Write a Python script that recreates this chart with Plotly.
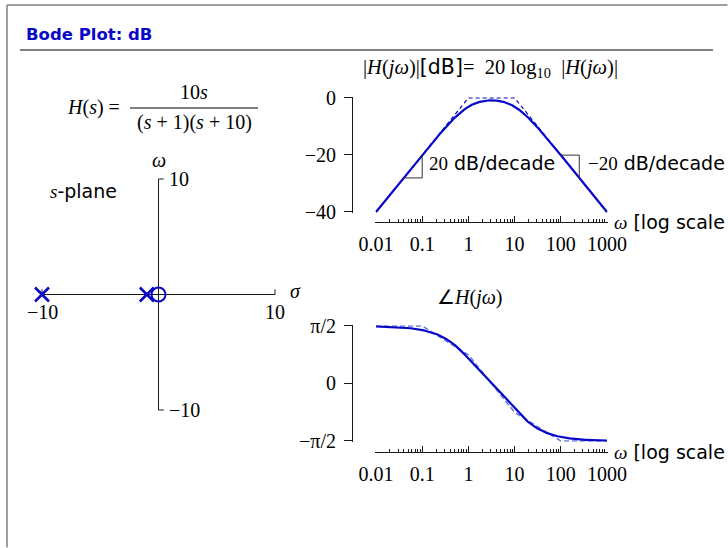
import numpy as np
import plotly.graph_objects as go

W, H = 728, 548
BLUE = "rgb(8,8,200)"
BLUE_ASYM = "rgba(50,70,225,0.75)"
INK = "#1a1a1a"
FRAME = "rgb(128,128,128)"
SERIF = "Liberation Serif"
SANS = "DejaVu Sans"
FS = 20
FS_SANS = 19

# Transfer function H(s) = K * prod(s - z) / prod(s - p)
gain = 10
zeros = [0.0]
poles = [-1.0, -10.0]

# Frequency axis
w_ticks = [0.01, 0.1, 1, 10, 100, 1000]
w_ticktext = ["0.01", "0.1", "1", "10", "100", "1000"]
w_minor = [m * d for d in [0.01, 0.1, 1, 10, 100] for m in range(2, 10)]

# Magnitude axis (dB)
db_ticks = [-40, -20, 0]
db_ticktext = ["−40", "−20", "0"]

# Phase axis (rad)
ph_ticks = [-np.pi / 2, 0, np.pi / 2]
ph_ticktext = ["−π/2", "0", "π/2"]

# Straight-line (asymptotic) approximations
asym_mag_w = [0.01, 1, 10, 1000]
asym_mag_db = [-40, 0, 0, -40]
asym_ph_w = [0.01, 0.1, 1, 10, 100, 1000]
asym_ph = [np.pi / 2, np.pi / 2, np.pi / 4, -np.pi / 4, -np.pi / 2, -np.pi / 2]

# Slope indicator triangles: anchor frequency, slope (dB/decade)
slope_w = [0.1, 100]
slope_db_per_dec = [20, -20]
slope_run = 0.4  # decades

# s-plane extent
s_lim = 10


def px(x):
    return x / W


def py(y):
    return 1 - y / H


def vlin(v_lo, p_lo, v_hi, p_hi, pad):
    """vertical axis: value v_lo at pixel row p_lo, v_hi at p_hi"""
    k = (p_lo - p_hi) / (v_hi - v_lo)
    return [py(p_lo + pad * k), py(p_hi - pad * k)], [v_lo - pad, v_hi + pad]


def hlin(v_lo, p_lo, v_hi, p_hi, pad):
    k = (p_hi - p_lo) / (v_hi - v_lo)
    return [px(p_lo - pad * k), px(p_hi + pad * k)], [v_lo - pad, v_hi + pad]


# Frequency response
w = np.logspace(-2, 3, 800)
s = 1j * w
resp = gain * np.prod([s - z for z in zeros], axis=0) / np.prod([s - p for p in poles], axis=0)
mag_db = 20 * np.log10(np.abs(resp))
phase = np.angle(resp)


def mag_at(f):
    sf = 1j * f
    r = gain * np.prod([sf - z for z in zeros]) / np.prod([sf - p for p in poles])
    return 20 * np.log10(abs(r))


fig = go.Figure()

# --- magnitude ---
fig.add_trace(go.Scatter(x=asym_mag_w, y=asym_mag_db, mode="lines", xaxis="x", yaxis="y",
                         line=dict(color=BLUE, width=1.2, dash="4px,3px"), hoverinfo="skip"))
fig.add_trace(go.Scatter(x=w, y=mag_db, mode="lines", xaxis="x", yaxis="y",
                         line=dict(color=BLUE, width=2.2), hoverinfo="skip"))

for f0, m in zip(slope_w, slope_db_per_dec):
    y0 = mag_at(f0)
    rise = m * slope_run
    if m > 0:
        tx = [f0 * 10 ** (-slope_run), f0, f0]
        ty = [y0 - rise, y0 - rise, y0]
    else:
        tx = [f0, f0 * 10 ** slope_run, f0 * 10 ** slope_run]
        ty = [y0, y0, y0 + rise]
    fig.add_trace(go.Scatter(x=tx, y=ty, mode="lines", xaxis="x", yaxis="y",
                             line=dict(color="#333", width=1), hoverinfo="skip"))

# --- phase ---
fig.add_trace(go.Scatter(x=asym_ph_w, y=asym_ph, mode="lines", xaxis="x2", yaxis="y2",
                         line=dict(color=BLUE_ASYM, width=1.5, dash="5px,3px"), hoverinfo="skip"))
fig.add_trace(go.Scatter(x=w, y=phase, mode="lines", xaxis="x2", yaxis="y2",
                         line=dict(color=BLUE, width=2.2), hoverinfo="skip"))

# --- s-plane ---
tick = 0.45
fig.add_trace(go.Scatter(x=[-s_lim, s_lim], y=[0, 0], mode="lines", xaxis="x3", yaxis="y3",
                         line=dict(color=INK, width=1), hoverinfo="skip"))
fig.add_trace(go.Scatter(x=[0, 0], y=[-s_lim, s_lim], mode="lines", xaxis="x3", yaxis="y3",
                         line=dict(color=INK, width=1), hoverinfo="skip"))
for xs, ys in [([s_lim, s_lim], [0, tick]), ([-s_lim, -s_lim], [0, tick]),
               ([0, tick], [s_lim, s_lim]), ([0, tick], [-s_lim, -s_lim])]:
    fig.add_trace(go.Scatter(x=xs, y=ys, mode="lines", xaxis="x3", yaxis="y3",
                             line=dict(color=INK, width=1), hoverinfo="skip"))
fig.add_trace(go.Scatter(x=poles, y=[0] * len(poles), mode="markers", xaxis="x3", yaxis="y3",
                         cliponaxis=False,
                         marker=dict(symbol="x-thin", size=14, color=BLUE,
                                     line=dict(color=BLUE, width=2.6)), hoverinfo="skip"))
fig.add_trace(go.Scatter(x=zeros, y=[0] * len(zeros), mode="markers", xaxis="x3", yaxis="y3",
                         cliponaxis=False,
                         marker=dict(symbol="circle-open", size=14, color=BLUE,
                                     line=dict(color=BLUE, width=2)), hoverinfo="skip"))

tickfont = dict(family=SERIF, size=FS, color="black")
log_common = dict(type="log", showgrid=False, zeroline=False, showline=True,
                  linecolor=INK, linewidth=1, ticks="inside", ticklen=6, tickcolor=INK,
                  tickwidth=1, tickmode="array", tickvals=w_ticks, ticktext=w_ticktext,
                  tickfont=tickfont, ticklabelstandoff=4, anchor="free",
                  minor=dict(ticks="inside", ticklen=3, tickcolor=INK, tickwidth=1,
                             tickmode="array", tickvals=w_minor, showgrid=False))
y_common = dict(showgrid=False, zeroline=False, showline=True, linecolor=INK, linewidth=1,
                ticks="outside", ticklen=8, tickcolor=INK, tickwidth=1, tickmode="array",
                tickfont=tickfont, anchor="free", position=px(352), ticklabelstandoff=4)

pad_dec = 0.012
k_dec = (607 - 376) / 5
xdom = [px(376 - pad_dec * k_dec), px(607 + pad_dec * k_dec)]
xrng = [-2 - pad_dec, 3 + pad_dec]

ydom1, yrng1 = vlin(-40, 212, 0, 98, 0.5)
ydom2, yrng2 = vlin(-np.pi / 2, 441, np.pi / 2, 326, 0.02)
xdom3, xrng3 = hlin(-s_lim, 42, s_lim, 275, 0.6)
ydom3, yrng3 = vlin(-s_lim, 410, s_lim, 179, 0.6)

fig.update_layout(
    width=W, height=H, margin=dict(l=0, r=0, t=0, b=0, pad=0, autoexpand=False),
    paper_bgcolor="white", plot_bgcolor="rgba(0,0,0,0)", showlegend=False,
    xaxis=dict(domain=xdom, range=xrng, position=py(222), **log_common),
    yaxis=dict(domain=ydom1, range=yrng1, tickvals=db_ticks, ticktext=db_ticktext, **y_common),
    xaxis2=dict(domain=xdom, range=xrng, position=py(452), **log_common),
    yaxis2=dict(domain=ydom2, range=yrng2, tickvals=ph_ticks, ticktext=ph_ticktext, **y_common),
    xaxis3=dict(domain=xdom3, range=xrng3, visible=False, anchor="y3"),
    yaxis3=dict(domain=ydom3, range=yrng3, visible=False, anchor="x3"),
)

shapes = [
    dict(type="line", xref="paper", yref="paper", x0=px(7), y0=py(5), x1=px(727.5), y1=py(5),
         line=dict(color=FRAME, width=1.5)),
    dict(type="line", xref="paper", yref="paper", x0=px(7), y0=py(5), x1=px(7), y1=py(547.5),
         line=dict(color=FRAME, width=1.5)),
    dict(type="line", xref="paper", yref="paper", x0=px(20), y0=py(50), x1=px(713), y1=py(50),
         line=dict(color="black", width=1)),
    # fraction bar of H(s)
    dict(type="line", xref="paper", yref="paper", x0=px(130), y0=py(108), x1=px(258), y1=py(108),
         line=dict(color="black", width=1)),
]
fig.update_layout(shapes=shapes)

SER = 'font-family:Liberation Serif'
annotations = []


def note(text, x, y, xanchor="center", family=SERIF, size=FS, color="black", **kw):
    annotations.append(dict(text=text, x=px(x), y=py(y), xref="paper", yref="paper",
                            xanchor=xanchor, yanchor="middle", showarrow=False,
                            font=dict(family=family, size=size, color=color), **kw))


def dnote(text, x, y, xanchor="center", xshift=0, yshift=0, family=SERIF, size=FS):
    annotations.append(dict(text=text, x=x, y=y, xref="x3", yref="y3", xanchor=xanchor,
                            yanchor="middle", showarrow=False, xshift=xshift, yshift=yshift,
                            font=dict(family=family, size=size, color="black")))


note("<b>Bode Plot: dB</b>", 24, 35, xanchor="left", family=SANS, size=16.5, color=BLUE)

# H(s) expression
note("<i>H</i>(<i>s</i>) =", 122, 107, xanchor="right")
note("10<i>s</i>", 194, 92)
note("(<i>s</i> + 1)(<i>s</i> + 10)", 194, 123)

# s-plane labels
note(f'<span style="{SER}"><i>s</i></span>-plane', 48, 191, xanchor="left", family=SANS,
     size=FS_SANS)
dnote("<i>ω</i>", 0, s_lim, yshift=19)
dnote("10", 0, s_lim, xanchor="left", xshift=8)
dnote("−10", 0, -s_lim, xanchor="left", xshift=8)
dnote("−10", -s_lim, 0, yshift=-17)
dnote("10", s_lim, 0, yshift=-17)
dnote("<i>σ</i>", s_lim, 0, xshift=20, yshift=4)

# magnitude plot labels (the right-hand ones end at the page edge)
note(f'|<i>H</i>(<i>jω</i>)|<span style="font-family:DejaVu Sans">[dB]</span>=\u200220 log<sub>10</sub>\u2002|<i>H</i>(<i>jω</i>)|',
     490, 68, size=20.5)
note(f'<span style="{SER}">20</span> dB/decade', 427, 163, xanchor="left", family=SANS,
     size=FS_SANS)
note(f'<span style="{SER}">−20</span> dB/decade', 727, 163, xanchor="right", family=SANS,
     size=FS_SANS)
note(f'<span style="{SER}"><i>ω</i></span> [log scale', 727, 222, xanchor="right", family=SANS,
     size=FS_SANS)

# phase plot labels
note("∠<i>H</i>(<i>jω</i>)", 469, 297)
note(f'<span style="{SER}"><i>ω</i></span> [log scale', 727, 452, xanchor="right", family=SANS,
     size=FS_SANS)

fig.update_layout(annotations=annotations)

page_js = (
    "document.body.style.margin='0';"
    "document.documentElement.style.overflow='hidden';"
)
fig.write_html("out.html", config={"displayModeBar": False}, post_script=page_js)
